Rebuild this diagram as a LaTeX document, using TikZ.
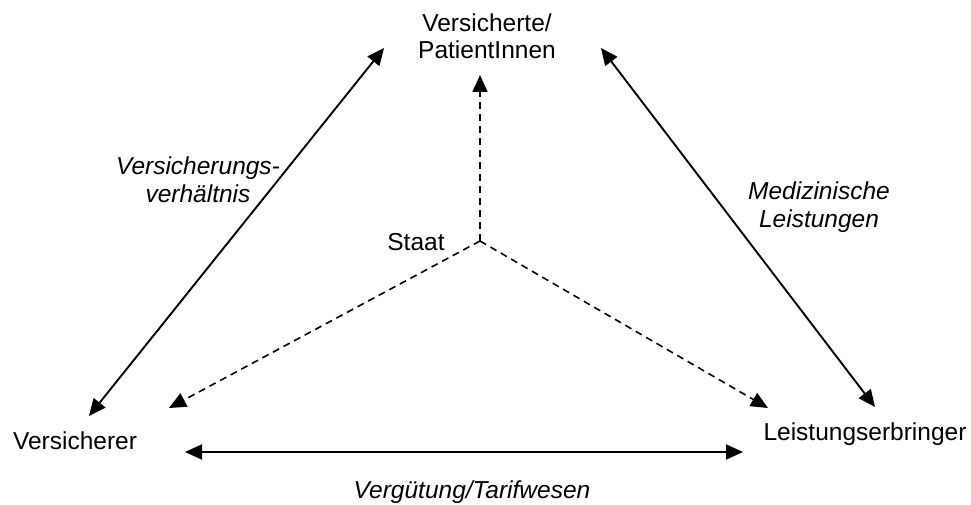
\documentclass[tikz,border=0pt]{standalone}
\usepackage{fontspec}
\setmainfont{Liberation Sans}
\usetikzlibrary{arrows.meta}
\begin{document}
\begin{tikzpicture}[x=1pt,y=-1pt,
  lbl/.style={font=\fontsize{24.5}{27.5}\selectfont, inner sep=0pt, align=center, anchor=base},
  ital/.style={lbl, font=\fontsize{24.5}{27.5}\selectfont\itshape},
  bothway/.style={line width=1.9pt, {Triangle[length=17pt,width=15pt]}-{Triangle[length=17pt,width=15pt]}},
  dasharrow/.style={line width=1.6pt, dash pattern=on 7pt off 5pt, -{Triangle[length=17pt,width=15pt]}}]
\useasboundingbox (0,0) rectangle (971,505);
% text nodes (base anchor = baseline of last line)
\node[lbl] (vp) at (487,59) {Versicherte/\\PatientInnen};
\node[lbl] (vs) at (75,449) {Versicherer};
\node[lbl] (lb) at (865,440) {Leistungserbringer};
\node[lbl] (st) at (416,250) {Staat};
\node[ital] (vv) at (198,202) {Versicherungs-\\verhältnis};
\node[ital] (ml) at (819,227) {Medizinische\\Leistungen};
\node[ital] (vt) at (472,498) {Vergütung/Tarifwesen};
% arrow end points
\coordinate (l1) at (89,416);
\coordinate (l2) at (384,48);
\coordinate (r1) at (601,48);
\coordinate (r2) at (875,407);
\coordinate (h1) at (185,452);
\coordinate (h2) at (743,452);
\coordinate (c) at (480,241);
\coordinate (cu) at (480,75);
\coordinate (cl) at (169,408);
\coordinate (cr) at (768,408);
% connectors
\draw[bothway] (l1) -- (l2);
\draw[bothway] (r1) -- (r2);
\draw[bothway] (h1) -- (h2);
\draw[dasharrow] (c) -- (cu);
\draw[dasharrow] (c) -- (cl);
\draw[dasharrow] (c) -- (cr);
\end{tikzpicture}
\end{document}
